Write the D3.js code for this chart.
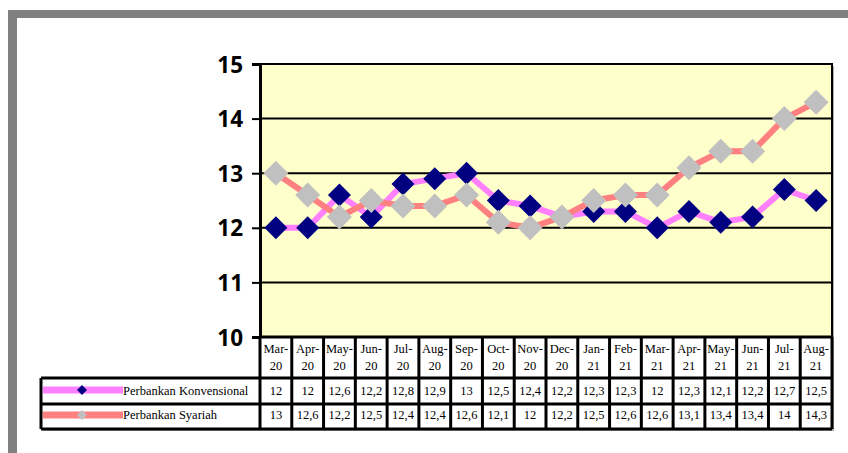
<!DOCTYPE html>
<html>
<head>
<meta charset="utf-8">
<script src="https://cdn.jsdelivr.net/npm/d3@7"></script>
<style>
  html, body { margin: 0; padding: 0; background: #fff; }
  svg { display: block; }
  .serif { font-family: "Liberation Serif", "Tinos", "DejaVu Serif", "Times New Roman", serif; }
</style>
</head>
<body>
<svg id="chart" width="848" height="453"></svg>
<script>
// Monthly categories (Mar-20 .. Aug-21), shown on two lines in the data table
const months = ["Mar-", "Apr-", "May-", "Jun-", "Jul-", "Aug-", "Sep-", "Oct-", "Nov-", "Dec-",
                "Jan-", "Feb-", "Mar-", "Apr-", "May-", "Jun-", "Jul-", "Aug-"];
const years  = ["20", "20", "20", "20", "20", "20", "20", "20", "20", "20",
                "21", "21", "21", "21", "21", "21", "21", "21"];
const seriesNames = ["Perbankan Konvensional", "Perbankan Syariah"];
const konvensional = [12, 12, 12.6, 12.2, 12.8, 12.9, 13, 12.5, 12.4, 12.2, 12.3, 12.3, 12, 12.3, 12.1, 12.2, 12.7, 12.5];
const syariah      = [13, 12.6, 12.2, 12.5, 12.4, 12.4, 12.6, 12.1, 12, 12.2, 12.5, 12.6, 12.6, 13.1, 13.4, 13.4, 14, 14.3];
const yTicks = [10, 11, 12, 13, 14, 15];

const svg = d3.select("#chart");
const W = 848, H = 453;

// outer frame (grey border on top and left)
svg.append("rect").attr("x", 8).attr("y", 10).attr("width", W - 8).attr("height", 8).attr("fill", "#808080");
svg.append("rect").attr("x", 8).attr("y", 10).attr("width", 9).attr("height", H - 10).attr("fill", "#808080");

const plot = { left: 260, right: 832, top: 64, bottom: 337 };
const idx = months.map((m, i) => i);

const x = d3.scaleBand().domain(idx).range([plot.left, plot.right]).paddingInner(0).paddingOuter(0);
const y = d3.scaleLinear().domain([10, 15]).range([plot.bottom, plot.top]);

// plot area shadow + background
svg.append("rect")
  .attr("x", plot.left + 2).attr("y", plot.top + 2)
  .attr("width", plot.right - plot.left).attr("height", plot.bottom - plot.top)
  .attr("fill", "#b0b0b0");
svg.append("rect")
  .attr("x", plot.left).attr("y", plot.top)
  .attr("width", plot.right - plot.left).attr("height", plot.bottom - plot.top)
  .attr("fill", "#FFFFCC");

// horizontal gridlines
svg.append("g").selectAll("line").data(yTicks).join("line")
  .attr("x1", plot.left).attr("x2", plot.right)
  .attr("y1", d => y(d)).attr("y2", d => y(d))
  .attr("stroke", "#000").attr("stroke-width", 2);

// plot area border
svg.append("rect")
  .attr("x", plot.left).attr("y", plot.top)
  .attr("width", plot.right - plot.left).attr("height", plot.bottom - plot.top)
  .attr("fill", "none").attr("stroke", "#000").attr("stroke-width", 2);

// y axis
const yAxis = d3.axisLeft(y).tickValues(yTicks).tickSize(8).tickPadding(9).tickFormat(d3.format("d"));
const gy = svg.append("g").attr("transform", `translate(${plot.left},0)`).call(yAxis);
gy.attr("font-family", null).attr("font-size", null);
gy.select(".domain").attr("stroke", "#000").attr("stroke-width", 3);
gy.selectAll(".tick line").attr("stroke", "#000").attr("stroke-width", 2);
gy.selectAll(".tick text")
  .attr("fill", "#000")
  .attr("dy", "0.36em")
  .style("font-family", "'Open Sans', 'DejaVu Sans', sans-serif")
  .style("font-weight", "bold")
  .style("font-size", "22.5px");

// series lines and markers
const series = [
  { name: seriesNames[0], values: konvensional, line: "#FF80FF", marker: "#000080", size: 23 },
  { name: seriesNames[1], values: syariah,      line: "#FF8080", marker: "#C0C0C0", size: 25 }
];
const cx = i => x(i) + x.bandwidth() / 2;
const lineGen = d3.line().x((d, i) => cx(i)).y(d => y(d));

series.forEach(s => {
  svg.append("path").datum(s.values)
    .attr("d", lineGen)
    .attr("fill", "none")
    .attr("stroke", s.line)
    .attr("stroke-width", 6)
    .attr("stroke-linejoin", "round");
});

function diamond(size) {
  const h = size / 2;
  return `M0,${-h}L${h},0L0,${h}L${-h},0Z`;
}
series.forEach(s => {
  svg.append("g").selectAll("path").data(s.values).join("path")
    .attr("d", diamond(s.size))
    .attr("transform", (d, i) => `translate(${cx(i)},${y(d)})`)
    .attr("fill", s.marker);
});

// data table below the plot
const tbl = { top: plot.bottom, headBottom: 378, row1Bottom: 404, row2Bottom: 429, legendLeft: 41 };
const fmt = v => String(v).replace(".", ",");

// table shadow and cell background
svg.append("rect")
  .attr("x", tbl.legendLeft + 2).attr("y", tbl.headBottom + 2)
  .attr("width", plot.right - tbl.legendLeft).attr("height", tbl.row2Bottom - tbl.headBottom)
  .attr("fill", "#b0b0b0");
svg.append("rect")
  .attr("x", plot.right).attr("y", tbl.top)
  .attr("width", 2).attr("height", tbl.row2Bottom - tbl.top)
  .attr("fill", "#b0b0b0");
svg.append("rect")
  .attr("x", tbl.legendLeft).attr("y", tbl.headBottom)
  .attr("width", plot.right - tbl.legendLeft).attr("height", tbl.row2Bottom - tbl.headBottom)
  .attr("fill", "#fff");
svg.append("rect")
  .attr("x", plot.left).attr("y", tbl.top)
  .attr("width", plot.right - plot.left).attr("height", tbl.headBottom - tbl.top)
  .attr("fill", "#fff");

const tg = svg.append("g").attr("stroke", "#000").attr("stroke-width", 3);
tg.append("line").attr("x1", plot.left).attr("x2", plot.right).attr("y1", tbl.top).attr("y2", tbl.top);
[tbl.headBottom, tbl.row1Bottom, tbl.row2Bottom].forEach(yy => {
  tg.append("line").attr("x1", tbl.legendLeft).attr("x2", plot.right).attr("y1", yy).attr("y2", yy);
});
const colEdges = idx.map(i => x(i)).concat([plot.right]);
tg.selectAll("line.v").data(colEdges).join("line").attr("class", "v")
  .attr("x1", d => d).attr("x2", d => d)
  .attr("y1", tbl.top).attr("y2", tbl.row2Bottom);
tg.append("line").attr("x1", tbl.legendLeft).attr("x2", tbl.legendLeft)
  .attr("y1", tbl.headBottom).attr("y2", tbl.row2Bottom);

// header labels
const head = svg.append("g").attr("class", "serif").attr("font-size", 12.5).attr("fill", "#000")
  .attr("text-anchor", "middle");
head.selectAll("text.m").data(idx).join("text").attr("class", "m serif")
  .attr("x", d => cx(d)).attr("y", 353).text(d => months[d]);
head.selectAll("text.yr").data(idx).join("text").attr("class", "yr serif")
  .attr("x", d => cx(d)).attr("y", 370).text(d => years[d]);

// value rows
const rowBase = [395, 419];
series.forEach((s, si) => {
  head.append("g").selectAll("text").data(s.values).join("text")
    .attr("class", "serif")
    .attr("x", (d, i) => cx(i)).attr("y", rowBase[si]).text(d => fmt(d));
});

// legend keys inside the table rows
const rowMid = [390, 415];
series.forEach((s, si) => {
  svg.append("line")
    .attr("x1", tbl.legendLeft + 2).attr("x2", 123)
    .attr("y1", rowMid[si]).attr("y2", rowMid[si])
    .attr("stroke", s.line).attr("stroke-width", 7);
  svg.append("path")
    .attr("d", diamond(10))
    .attr("transform", `translate(82,${rowMid[si]})`)
    .attr("fill", s.marker);
  svg.append("text")
    .attr("class", "serif")
    .attr("x", 123).attr("y", rowBase[si])
    .attr("font-size", 12.5)
    .attr("fill", "#000")
    .text(s.name);
});
</script>
</body>
</html>
